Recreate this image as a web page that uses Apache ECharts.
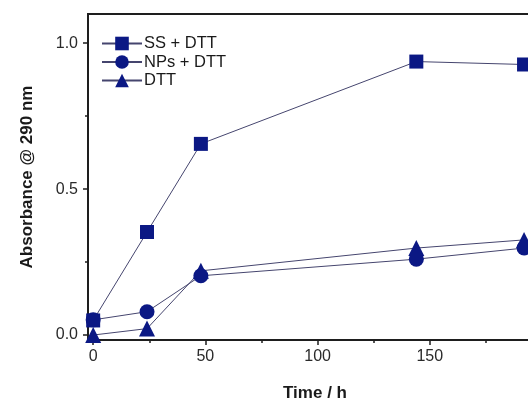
<!DOCTYPE html>
<html>
<head>
<meta charset="utf-8">
<script src="https://cdn.jsdelivr.net/npm/echarts@6/dist/echarts.min.js"></script>
<style>html,body{margin:0;padding:0;background:#fff}#c{width:528px;height:400px}</style>
</head>
<body>
<div id="c"></div>
<script>
const times = [0, 24, 48, 144, 192];
const ssDtt = [0.05, 0.353, 0.655, 0.937, 0.927];
const npsDtt = [0.052, 0.08, 0.203, 0.26, 0.298];
const dtt = [0.0, 0.022, 0.22, 0.298, 0.326];
const seriesNames = ['SS + DTT', 'NPs + DTT', 'DTT'];
const xMajorTicks = [0, 50, 100, 150, 200];
const xMinorTicks = [25, 75, 125, 175];
const yMajorTicks = [0, 0.5, 1.0];
const yMinorTicks = [0.25, 0.75];

const markColor = '#0b1884';
const lineColor = '#45456e';
const axisColor = '#1e1e1e';
const font = 'Liberation Sans, Arial, sans-serif';

function pairs(ys) { return times.map((t, i) => [t, ys[i]]); }

const chart = echarts.init(document.getElementById('c'), null, {renderer: 'canvas'});
const xBase = {
  type: 'value', min: -2.3, max: 200, gridIndex: 0, position: 'bottom',
  splitLine: {show: false}
};
const yBase = {
  type: 'value', min: -0.017, max: 1.1, gridIndex: 0, position: 'left',
  splitLine: {show: false}
};
chart.setOption({
  animation: false,
  grid: {left: 88, top: 14, width: 454, height: 326, outerBoundsMode: 'none', containLabel: false,
    show: true, borderColor: axisColor, borderWidth: 2, backgroundColor: 'transparent'},
  legend: {
    left: 101, top: 35, padding: 0, itemGap: 1.5, itemWidth: 40, itemHeight: 17,
    orient: 'vertical',
    data: seriesNames,
    textStyle: {fontFamily: font, fontSize: 16.5, color: '#1a1a1a', padding: [0, 0, 0, -3]}
  },
  xAxis: [
    Object.assign({}, xBase, {
      name: 'Time / h', nameLocation: 'middle', nameGap: 45,
      nameTextStyle: {fontFamily: font, fontSize: 17, fontWeight: 'bold', color: '#1a1a1a'},
      axisLine: {show: true, onZero: false, lineStyle: {color: axisColor, width: 2}},
      axisTick: {show: true, inside: false, length: 5, lineStyle: {color: axisColor, width: 1.5}, customValues: xMajorTicks},
      axisLabel: {show: true, margin: 9, fontFamily: font, fontSize: 16, color: '#2a2a2a', customValues: xMajorTicks.slice(0, 4)}
    }),
    Object.assign({}, xBase, {
      axisLine: {show: false, onZero: false},
      axisTick: {show: true, inside: false, length: 3, lineStyle: {color: axisColor, width: 1.5}, customValues: xMinorTicks},
      axisLabel: {show: false}
    })
  ],
  yAxis: [
    Object.assign({}, yBase, {
      name: 'Absorbance @ 290 nm', nameLocation: 'middle', nameGap: 52,
      nameTextStyle: {fontFamily: font, fontSize: 17, fontWeight: 'bold', color: '#1a1a1a'},
      axisLine: {show: true, onZero: false, lineStyle: {color: axisColor, width: 2}},
      axisTick: {show: true, inside: false, length: 5, lineStyle: {color: axisColor, width: 1.5}, customValues: yMajorTicks},
      axisLabel: {show: true, margin: 10, fontFamily: font, fontSize: 16, color: '#2a2a2a', customValues: yMajorTicks,
        formatter: v => v.toFixed(1)}
    }),
    Object.assign({}, yBase, {
      axisLine: {show: false, onZero: false},
      axisTick: {show: true, inside: false, length: 3, lineStyle: {color: axisColor, width: 1.5}, customValues: yMinorTicks},
      axisLabel: {show: false}
    })
  ],
  series: [
    {name: seriesNames[0], type: 'line', data: pairs(ssDtt), symbol: 'rect', symbolSize: 14},
    {name: seriesNames[1], type: 'line', data: pairs(npsDtt), symbol: 'circle', symbolSize: 15},
    {name: seriesNames[2], type: 'line', data: pairs(dtt), symbol: 'triangle', symbolSize: 16}
  ].map(s => Object.assign(s, {
    xAxisIndex: 0, yAxisIndex: 0, clip: false,
    itemStyle: {color: markColor, borderWidth: 0},
    lineStyle: {color: lineColor, width: 1},
    emphasis: {disabled: true}
  }))
});
</script>
</body>
</html>
